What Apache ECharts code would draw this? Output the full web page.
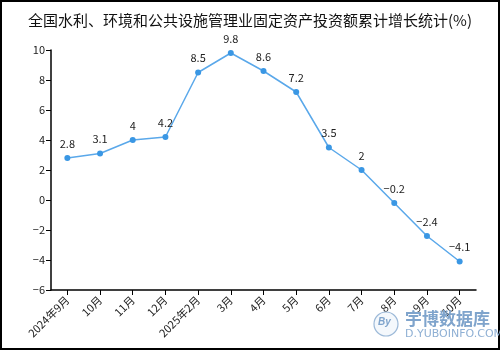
<!DOCTYPE html>
<html><head><meta charset="utf-8">
<script src="https://cdn.jsdelivr.net/npm/echarts@6/dist/echarts.min.js"></script>
<style>html,body{margin:0;padding:0;background:#fff}#c{width:500px;height:350px}</style>
</head><body><div id="c"></div>
<script>
const categories = ['2024年9月','10月','11月','12月','2025年2月','3月','4月','5月','6月','7月','8月','9月','10月'];
const values = [2.8, 3.1, 4, 4.2, 8.5, 9.8, 8.6, 7.2, 3.5, 2, -0.2, -2.4, -4.1];
const titleText = '全国水利、环境和公共设施管理业固定资产投资额累计增长统计(%)';
const FONT = '"Noto Sans CJK SC", sans-serif';
const chart = echarts.init(document.getElementById('c'), null, {renderer:'canvas'});
chart.setOption({
  animation:false,
  backgroundColor:'#fff',
  title:{text:titleText,left:'center',top:8,textStyle:{fontFamily:FONT,fontSize:15,fontWeight:'normal',color:'#111'}},
  grid:{left:51,right:24,top:50,bottom:60,containLabel:false},
  xAxis:{type:'category',data:categories,boundaryGap:true,
    axisLine:{onZero:false,lineStyle:{color:'#000',width:1.5}},
    axisTick:{show:true,alignWithLabel:true,length:5,lineStyle:{color:'#000'}},
    axisLabel:{rotate:45,interval:0,fontFamily:FONT,fontSize:11,color:'#222',margin:8}},
  yAxis:{type:'value',min:-6,max:10,interval:2,splitLine:{show:false},
    axisLine:{show:true,lineStyle:{color:'#000',width:1.5}},
    axisTick:{show:true,length:5,lineStyle:{color:'#000'}},
    axisLabel:{fontFamily:FONT,fontSize:11,color:'#222',margin:6,formatter:v=>String(v).replace('-','−')}},
  graphic:[
    {type:'rect',shape:{x:1,y:1,width:498,height:348},style:{fill:'none',stroke:'#000',lineWidth:2},z:100},
    {type:'circle',shape:{cx:386,cy:324,r:12},style:{fill:'#f4f8fc',stroke:'#9cb9d8',lineWidth:1.2},z:100},
    {type:'text',x:378,y:317,style:{text:'By',fill:'#7fa4cc',font:'italic bold 10px sans-serif'},z:100},
    {type:'text',x:405,y:310,style:{text:'宇博数据库',fill:'#7fa4cc',font:'bold 17px "Noto Sans CJK SC"'},z:100},
    {type:'text',x:405,y:329,style:{text:'D.YUBOINFO.COM',fill:'#8fb0d4',font:'11px "DejaVu Sans"'},z:100}
  ],
  series:[{type:'line',data:values,symbol:'circle',symbolSize:6,
    itemStyle:{color:'#3a97e4'},lineStyle:{color:'#5aa8ea',width:1.5},
    label:{show:true,position:'top',fontFamily:FONT,fontSize:11,color:'#222',distance:6,
      formatter:p=>String(p.value).replace('-','−')}}]
});
</script></body></html>
